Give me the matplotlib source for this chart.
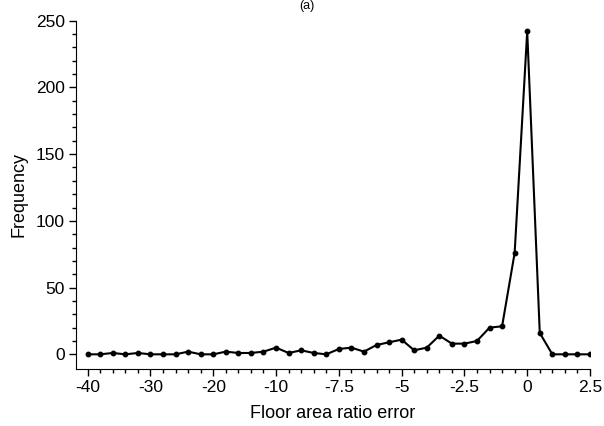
import numpy as np
import matplotlib
matplotlib.use("Agg")
import matplotlib.pyplot as plt

plt.rcParams['font.family'] = ['Liberation Sans', 'DejaVu Sans']

# bin centres (uneven bins, plotted evenly spaced)
bins = [-40, -38, -36, -34, -32, -30, -28, -26, -24, -22, -20, -18, -16, -14, -12, -10,
        -9.5, -9, -8.5, -8, -7.5, -7, -6.5, -6, -5.5, -5, -4.5, -4, -3.5, -3, -2.5,
        -2, -1.5, -1, -0.5, 0, 0.5, 1, 1.5, 2, 2.5]
freq = [0, 0, 1, 0, 1, 0, 0, 0, 2, 0, 0, 2, 1, 1, 2, 5,
        1, 3, 1, 0, 4, 5, 2, 7, 9, 11, 3, 5, 14, 8, 8,
        10, 20, 21, 76, 242, 16, 0, 0, 0, 0]
tick_labels = ['-40', '-30', '-20', '-10', '-7.5', '-5', '-2.5', '0', '2.5']

idx = np.arange(len(bins))

fig = plt.figure(figsize=(6.04, 4.26), dpi=100)
ax = fig.add_axes([76/604, 1-369/426, (590-76)/604, (369-20.7)/426])

ax.plot(idx, freq, color='black', linewidth=1.5, marker='o', markersize=3.2)

ax.set_xlim(-0.93, 40)
ax.set_ylim(-11, 250)

ax.set_xticks(idx[::5])
ax.set_xticklabels(tick_labels)
ax.set_xticks(idx, minor=True)
ax.set_yticks(np.arange(0, 251, 50))
ax.set_yticks(np.arange(0, 251, 10), minor=True)

ax.spines['top'].set_visible(False)
ax.spines['right'].set_visible(False)
ax.tick_params(which='major', direction='out', length=5, width=1, labelsize=12.5, colors='black', pad=3)
ax.tick_params(which='minor', direction='out', length=3, width=1)

ax.set_xlabel("Floor area ratio error", fontsize=13, labelpad=7)
ax.set_ylabel("Frequency", fontsize=13, labelpad=6)

# panel label, partly cropped at the top in the original
fig.text(307/604, 1.0, "(a)", ha='center', va='top', fontsize=9)

fig.savefig("out.png", dpi=100)
